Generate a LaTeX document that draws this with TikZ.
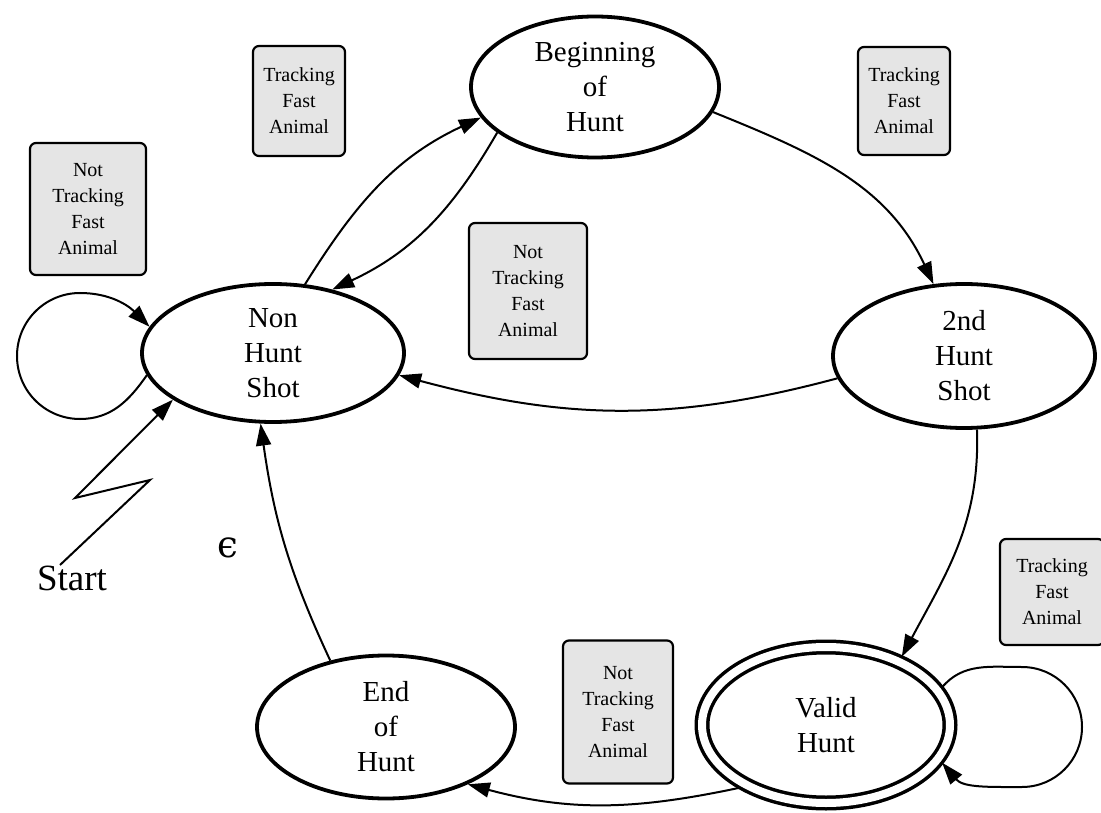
\documentclass[tikz,border=0pt]{standalone}
\usepackage{fontspec}
\setmainfont{Liberation Serif}
\newfontfamily\dvserif{DejaVu Serif}
\usetikzlibrary{arrows.meta,shapes.geometric}
\begin{document}
\begin{tikzpicture}[x=1pt,y=1pt,
  st/.style={ellipse, draw, line width=3.8pt, inner sep=0pt, align=center,
             font=\fontsize{29}{35}\selectfont},
  lab/.style={draw, line width=2.2pt, rounded corners=6pt, fill=gray!20, align=center,
              inner sep=0pt, font=\fontsize{20}{26}\selectfont},
  edge/.style={line width=2pt, -{Triangle[length=22pt,width=15pt]}},
  big/.style={font=\fontsize{37}{42}\selectfont, inner sep=0pt},
]
\useasboundingbox (0,0) rectangle (1101,-813);
% states
\node[st, minimum width=248, minimum height=141] (boh) at (595,-87) {Beginning\\of\\Hunt};
\node[st, minimum width=262, minimum height=138] (nhs) at (273,-353) {Non\\Hunt\\Shot};
\node[st, minimum width=262, minimum height=144] (shs) at (964,-356) {2nd\\Hunt\\Shot};
\node[st, minimum width=258, minimum height=143] (eoh) at (386,-727) {End\\of\\Hunt};
\node[st, double, double distance=8pt, line width=3.5pt, outer sep=6pt, minimum width=248, minimum height=156] (vh) at (826,-725) {Valid\\Hunt};
% labels
\node[lab, minimum width=92, minimum height=110] (b1) at (299,-101) {Tracking\\Fast\\Animal};
\node[lab, minimum width=92, minimum height=108] (b2) at (904,-101) {Tracking\\Fast\\Animal};
\node[lab, minimum width=116, minimum height=132] (b3) at (88,-209) {Not\\Tracking\\Fast\\Animal};
\node[lab, minimum width=118, minimum height=136] (b4) at (528,-291) {Not\\Tracking\\Fast\\Animal};
\node[lab, minimum width=110, minimum height=143] (b5) at (618,-712) {Not\\Tracking\\Fast\\Animal};
\node[lab, minimum width=104, minimum height=106] (b6) at (1052,-592) {Tracking\\Fast\\Animal};
% texts
\node[big] (start) at (72,-578) {Start};
\node[big] (eps) at (228,-548) {\dvserif ϵ};
% start zigzag
\coordinate (z0) at (60,-565);
\coordinate (z1) at (150,-480);
\coordinate (z2) at (75,-498);
\draw[edge] (z0) -- (z1) -- (z2) -- (nhs.205);
% edges
\draw[edge] (nhs.65) to[out=58, in=205] (boh.195);
\draw[edge] (boh.205) to[out=240, in=25] (nhs.47);
\draw[edge] (boh.-12) to[out=-22, in=115] (shs.113);
\draw[edge] (shs.190) to[out=195, in=-15] (nhs.-10);
\draw[edge] (shs.-80) to[out=-88, in=62] (vh.42);
\draw[edge] (vh.216) to[out=192, in=-15] (eoh.-35);
\draw[edge] (eoh.130) to[out=115, in=-82] (nhs.260);
% self loops
\coordinate (l1) at (80,-419);
\coordinate (l2) at (17,-356);
\coordinate (l3) at (80,-293);
\draw[edge] (nhs.190) to[out=235,in=0] (l1) to[out=180,in=270] (l2) to[out=90,in=180] (l3) to[out=0,in=135] (nhs.168);
\coordinate (r1) at (1022,-667);
\coordinate (r2) at (1082,-727);
\coordinate (r3) at (1022,-787);
\draw[edge] (vh.18) to[out=50,in=180] (r1) to[out=0,in=90] (r2) to[out=270,in=0] (r3) to[out=180,in=-50] (vh.-18);
\end{tikzpicture}
\end{document}
